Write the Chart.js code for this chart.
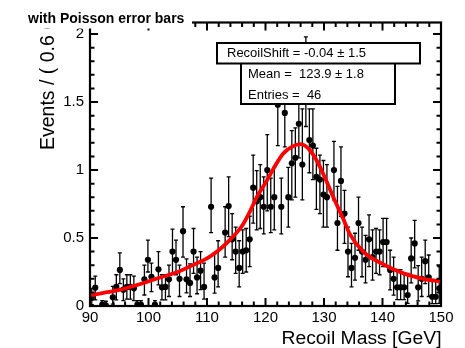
<!DOCTYPE html>
<html><head><meta charset="utf-8">
<script src="https://cdn.jsdelivr.net/npm/chart.js@4"></script>
<style>html,body{margin:0;padding:0;background:#fff}#wrap{width:465px;height:348px;position:relative}</style>
</head><body><div id="wrap"><canvas id="c" width="465" height="348"></canvas></div>
<script>
// ---- data ----
const binCenters = [90.3,90.9,92.1,92.7,93.9,94.5,95.1,95.7,96.3,96.9,97.5,98.1,98.7,99.3,99.9,100.5,101.1,101.7,102.3,102.9,103.5,104.1,104.7,105.3,105.9,106.5,107.1,107.7,108.3,108.9,109.5,110.7,111.3,111.9,113.1,113.7,114.3,114.9,115.5,116.1,116.7,117.3,117.9,118.5,119.1,119.7,120.3,120.9,121.5,122.1,122.7,123.3,123.9,124.5,125.1,125.7,126.3,126.9,127.5,128.1,128.7,129.3,129.9,130.5,131.7,132.3,132.9,133.5,134.1,134.7,135.3,135.9,136.5,137.1,137.7,138.3,138.9,139.5,140.1,140.7,141.3,141.9,142.5,143.1,143.7,144.3,144.9,145.5,146.1,146.7,147.3,147.9,148.5,149.1,149.7];
const eventsPerBin = [0.06,0.135,0.01,0.005,0.064,0.14,0.265,0.12,0.14,0.14,0.13,0.01,0.01,0.196,0.34,0.215,0.01,0.27,0.137,0.14,0.196,0.40,0.34,0.20,0.55,0.196,0.17,0.40,0.21,0.26,0.14,0.73,0.21,0.28,0.54,0.735,0.49,0.40,0.28,0.40,0.41,0.49,0.87,0.77,0.80,0.73,1.0,0.73,0.80,1.48,0.73,1.42,0.80,1.05,1.09,1.34,1.04,1.62,1.22,1.18,0.95,0.93,0.82,0.80,1.0,0.61,0.92,0.68,0.40,0.28,0.355,0.61,0.40,0.34,0.49,0.36,0.40,0.40,0.47,0.47,0.265,0.20,0.137,0.137,0.137,0.08,0.35,0.46,0.137,0.20,0.33,0.21,0.068,0.068,0.13];
const errHigh = [0.07,0.085,0.03,0.03,0.08,0.09,0.125,0.08,0.09,0.09,0.09,0.03,0.03,0.105,0.145,0.10,0.03,0.13,0.093,0.09,0.104,0.165,0.145,0.10,0.18,0.15,0.14,0.17,0.15,0.14,0.175,0.21,0.18,0.20,0.19,0.215,0.19,0.18,0.20,0.16,0.16,0.17,0.24,0.225,0.24,0.22,0.26,0.21,0.22,0.30,0.21,0.30,0.22,0.24,0.22,0.30,0.41,0.36,0.23,0.27,0.21,0.18,0.25,0.24,0.21,0.27,0.25,0.17,0.18,0.18,0.18,0.19,0.18,0.18,0.18,0.20,0.17,0.16,0.175,0.175,0.145,0.16,0.13,0.13,0.10,0.16,0.15,0.17,0.16,0.16,0.155,0.165,0.12,0.12,0.16];
const errLow = [0.05,0.09,0.01,0.005,0.05,0.095,0.10,0.08,0.09,0.09,0.09,0.01,0.01,0.115,0.09,0.11,0.01,0.115,0.092,0.095,0.126,0.16,0.11,0.13,0.19,0.10,0.10,0.16,0.12,0.14,0.09,0.19,0.115,0.14,0.18,0.225,0.15,0.16,0.14,0.16,0.16,0.20,0.26,0.21,0.23,0.20,0.30,0.19,0.24,0.30,0.20,0.25,0.22,0.27,0.29,0.25,0.26,0.30,0.24,0.25,0.24,0.25,0.24,0.22,0.22,0.20,0.26,0.22,0.185,0.14,0.165,0.20,0.185,0.17,0.20,0.17,0.16,0.17,0.18,0.18,0.147,0.12,0.09,0.09,0.09,0.06,0.18,0.18,0.10,0.13,0.165,0.14,0.05,0.05,0.11];
const fitMass  = [90,95,99,102,105,108,110,112,114,116,117.4,118.5,120.2,121.5,123,124.5,126,127.5,129,130.3,131.6,133.5,134.4,136.7,140,143.6,147,150];
const fitValue = [0.08,0.118,0.167,0.21,0.25,0.31,0.35,0.41,0.49,0.59,0.70,0.80,0.92,1.02,1.12,1.17,1.19,1.15,1.05,0.93,0.80,0.62,0.53,0.40,0.31,0.24,0.20,0.18];
const xTickValues = [90,100,110,120,130,140,150];
const yTickValues = [0,0.5,1,1.5,2];
const titleText = "with Poisson error bars";
const statLines = ["RecoilShift = -0.04 \u00b1 1.5", "Mean =  123.9 \u00b1 1.8", "Entries =  46"];
const xTitle = "Recoil Mass [GeV]";
const yTitle = "Events / ( 0.6 GeV )";

const FONT = '"Liberation Sans", Arial, Helvetica, sans-serif';
Chart.defaults.font.family = FONT;
Chart.defaults.color = '#000';

const errorBars = {
  id: 'errorBars',
  beforeDatasetsDraw(chart) {
    const {ctx, chartArea: a, scales: {x, y}} = chart;
    ctx.save();
    ctx.beginPath(); ctx.rect(a.left, a.top, a.width, a.height); ctx.clip();
    ctx.strokeStyle = '#000'; ctx.lineWidth = 1.3;
    binCenters.forEach((m, i) => {
      const px = x.getPixelForValue(m);
      const top = y.getPixelForValue(eventsPerBin[i] + errHigh[i]);
      const bot = y.getPixelForValue(Math.max(0, eventsPerBin[i] - errLow[i]));
      ctx.beginPath();
      ctx.moveTo(px, top); ctx.lineTo(px, bot);
      ctx.moveTo(px - 2, top); ctx.lineTo(px + 2, top);
      ctx.moveTo(px - 2, bot); ctx.lineTo(px + 2, bot);
      ctx.stroke();
    });
    ctx.restore();
  }
};

const decorations = {
  id: 'decorations',
  afterDatasetsDraw(chart) {
    const {ctx, chartArea: a, scales: {x, y}} = chart;
    ctx.save();
    // frame
    ctx.strokeStyle = '#000'; ctx.lineWidth = 2.2;
    ctx.strokeRect(a.left, a.top, a.right - a.left, a.bottom - a.top);
    ctx.lineWidth = 2;
    ctx.beginPath();
    for (let k = 0; k <= 20; k++) {
      const v = k / 10, py = y.getPixelForValue(v);
      const len = (k % 5 === 0) ? 8 : 4.5;
      ctx.moveTo(a.left, py); ctx.lineTo(a.left + len, py);
      ctx.moveTo(a.right, py); ctx.lineTo(a.right - len, py);
    }
    for (let v = 90; v <= 150; v += 2) {
      const px = x.getPixelForValue(v);
      const len = (v % 10 === 0) ? 8 : 4.5;
      ctx.moveTo(px, a.bottom); ctx.lineTo(px, a.bottom - len);
      ctx.moveTo(px, a.top); ctx.lineTo(px, a.top + len);
    }
    ctx.stroke();

    // stat boxes
    ctx.fillStyle = '#fff'; ctx.lineWidth = 2;
    ctx.fillRect(241, 63, 154, 41); ctx.strokeRect(241, 63, 154, 41);
    ctx.fillRect(217, 43, 203, 20.5); ctx.strokeRect(217, 43, 203, 20.5);
    ctx.fillStyle = '#000';
    ctx.font = '13px ' + FONT; ctx.textBaseline = 'middle'; ctx.textAlign = 'left';
    ctx.fillText(statLines[0], 227, 53.5);
    ctx.fillText(statLines[1], 248, 74.5);
    ctx.fillText(statLines[2], 248, 95.5);
    ctx.textBaseline = 'alphabetic';

    // y title (drawn before the title pad, which hides its upper end)
    ctx.save();
    ctx.translate(54, 150); ctx.rotate(-Math.PI / 2);
    ctx.font = '19.5px ' + FONT; ctx.textAlign = 'left';
    ctx.fillText(yTitle, 0, 0);
    ctx.restore();

    // title pad
    ctx.fillStyle = '#fff';
    ctx.fillRect(0, 0, 192, 28.5);
    ctx.fillStyle = '#000';
    ctx.font = 'bold 14px ' + FONT; ctx.textAlign = 'left';
    ctx.fillText(titleText, 28, 23);

    // x title (right aligned at axis end)
    ctx.font = '18px ' + FONT;
    const w = ctx.measureText(xTitle).width;
    const sx = 160 / w;
    ctx.save();
    ctx.translate(441.5, 343.5); ctx.scale(sx, 1);
    ctx.textAlign = 'right';
    ctx.fillText(xTitle, 0, 0);
    ctx.restore();
    ctx.restore();
  }
};

new Chart(document.getElementById('c'), {
  data: {
    datasets: [
      { type: 'line', label: 'fit', data: fitMass.map((m, i) => ({x: m, y: fitValue[i]})),
        borderColor: '#ff0000', borderWidth: 3.8, pointRadius: 0, fill: false,
        cubicInterpolationMode: 'monotone', order: 1 },
      { type: 'scatter', label: 'data', data: binCenters.map((m, i) => ({x: m, y: eventsPerBin[i]})),
        backgroundColor: '#000', borderColor: '#000', borderWidth: 0, pointRadius: 3.1, order: 2 }
    ]
  },
  options: {
    responsive: false, devicePixelRatio: 1, animation: false,
    layout: { padding: { left: 0, top: 22.5, right: 24, bottom: 0 } },
    plugins: { legend: { display: false }, tooltip: { enabled: false } },
    scales: {
      x: { type: 'linear', min: 90, max: 150,
        afterBuildTicks: s => { s.ticks = xTickValues.map(v => ({value: v})); },
        afterFit: s => { s.height = 42; },
        grid: { display: false, drawTicks: false }, border: { display: false },
        ticks: { font: { size: 15 }, padding: 3, maxRotation: 0, autoSkip: false, color: '#000',
                 callback: v => String(v) } },
      y: { type: 'linear', min: 0, max: 2.085,
        afterBuildTicks: s => { s.ticks = yTickValues.map(v => ({value: v})); },
        afterFit: s => { s.width = 90; },
        grid: { display: false, drawTicks: false }, border: { display: false },
        ticks: { font: { size: 15 }, padding: 6, color: '#000', callback: v => String(v) } }
    }
  },
  plugins: [errorBars, decorations]
});
</script>
</body></html>
